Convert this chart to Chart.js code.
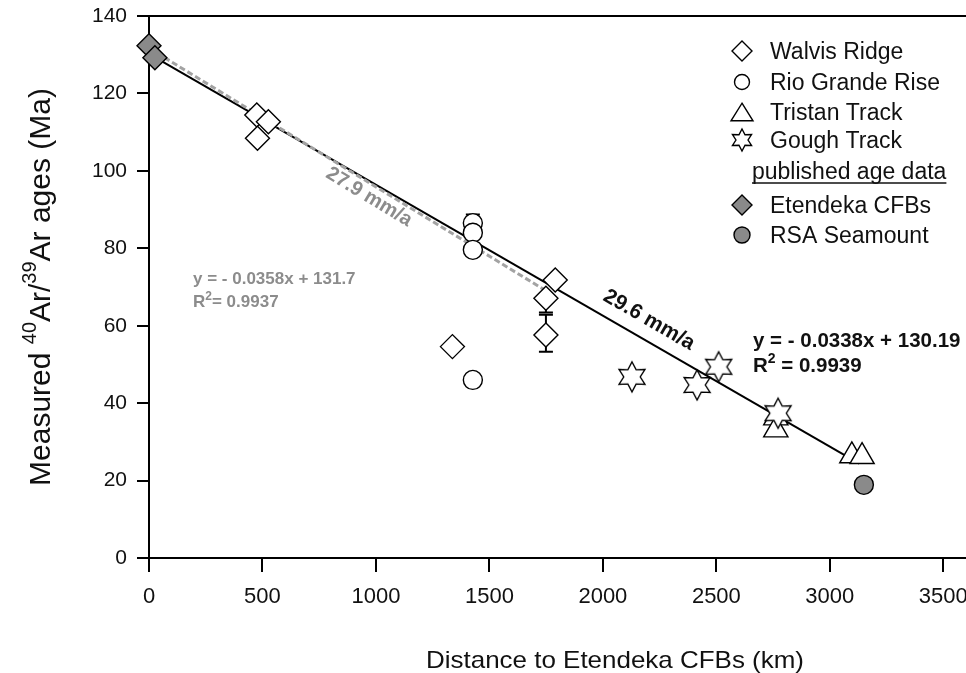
<!DOCTYPE html>
<html>
<head>
<meta charset="utf-8">
<script src="https://cdn.jsdelivr.net/npm/chart.js@4.4.1/dist/chart.umd.min.js"></script>
<style>
  html, body { margin: 0; padding: 0; background: #fff; }
  #c { display: block; }
</style>
</head>
<body>
<canvas id="c" width="966" height="673"></canvas>
<script>
// ---- data (distance km, age Ma) ----
const walvisX = [475, 526, 478, 1790, 1749, 1749, 1337];
const walvisY = [114.4, 112.7, 108.4, 71.8, 67.1, 57.6, 54.6];
const rioX = [1427, 1427, 1427, 1427];
const rioY = [86.5, 84.0, 79.6, 46.0];
const tristanX = [2762, 2762, 3097, 3142];
const tristanY = [36.2, 33.1, 26.4, 26.2];
const goughX = [2128, 2415, 2510, 2772];
const goughY = [46.8, 44.7, 49.4, 37.4];
const etendekaX = [0, 26];
const etendekaY = [132.3, 129.2];
const rsaX = [3150];
const rsaY = [18.9];

// error bars (x, low, high)
const errX = [1749, 1749, 1427];
const errLow = [53.3, 63.4, 84.3];
const errHigh = [62.8, 67.1, 88.7];

// regression lines (end points)
const fitAllX = [0, 3130];
const fitAllY = [130.2, 24.4];
const fitPubX = [0, 1750];
const fitPubY = [131.7, 69.0];

const xTicks = [0, 500, 1000, 1500, 2000, 2500, 3000, 3500];
const yTicks = [0, 20, 40, 60, 80, 100, 120, 140];

const legendLabels = ['Walvis Ridge', 'Rio Grande Rise', 'Tristan Track', 'Gough Track',
                      'published age data', 'Etendeka CFBs', 'RSA Seamount'];
const legendShapes = ['diamond', 'circle', 'triangle', 'star', null, 'diamond', 'circle'];
const legendFills = ['#fff', '#fff', '#fff', '#fff', null, '#8a8a8a', '#8a8a8a'];

const FONT = '"Liberation Sans", Arial, Helvetica, sans-serif';
const GRAY_TXT = '#8c8c8c';
const INK = '#111';

function starPath(g, cx, cy, R, r) {
  g.beginPath();
  for (let i = 0; i < 12; i++) {
    const a = -Math.PI / 2 + i * Math.PI / 6;
    const rr = i % 2 ? r : R;
    const px = cx + rr * Math.cos(a), py = cy + rr * Math.sin(a);
    if (i) g.lineTo(px, py); else g.moveTo(px, py);
  }
  g.closePath();
}

function makeStar(R) {
  const c = document.createElement('canvas');
  const s = Math.ceil(R * 2 + 4);
  c.width = s; c.height = s;
  const g = c.getContext('2d');
  starPath(g, s / 2, s / 2, R, R * 0.55);
  g.fillStyle = '#fff'; g.fill();
  g.lineWidth = 1.4; g.strokeStyle = '#000'; g.stroke();
  return c;
}

function marker(g, shape, x, y, r, fill) {
  g.save();
  g.beginPath();
  if (shape === 'diamond') {
    g.moveTo(x, y - r); g.lineTo(x + r, y); g.lineTo(x, y + r); g.lineTo(x - r, y); g.closePath();
  } else if (shape === 'circle') {
    g.arc(x, y, r, 0, Math.PI * 2);
  } else if (shape === 'triangle') {
    const h = r * 1.6;
    g.moveTo(x, y - h / 2); g.lineTo(x + r, y + h / 2); g.lineTo(x - r, y + h / 2); g.closePath();
  } else if (shape === 'star') {
    starPath(g, x, y, r, r * 0.55);
  }
  g.fillStyle = fill; g.fill();
  g.lineWidth = 1.4; g.strokeStyle = '#000'; g.stroke();
  g.restore();
}

// text with optional horizontal stretch, returns drawn width
function txt(g, s, x, y, font, color, sx) {
  g.save();
  g.font = font; g.fillStyle = color; g.textBaseline = 'alphabetic'; g.textAlign = 'left';
  g.translate(x, y); g.scale(sx || 1, 1);
  g.fillText(s, 0, 0);
  const w = g.measureText(s).width * (sx || 1);
  g.restore();
  return w;
}

// R² style text: parts [text, isSup]
function richLine(g, parts, x, y, size, weight, color) {
  let cx = x;
  parts.forEach(([s, sup]) => {
    const f = `${weight} ${sup ? Math.round(size * 0.68) : size}px ${FONT}`;
    cx += txt(g, s, cx, sup ? y - size * 0.42 : y, f, color);
  });
}

function pts(xs, ys) { return xs.map((x, i) => ({ x, y: ys[i] })); }

function scatterSet(label, xs, ys, style, r, fill) {
  return {
    label, data: pts(xs, ys), pointStyle: style, pointRadius: r, pointHoverRadius: r,
    backgroundColor: fill, borderColor: '#000', pointBorderWidth: 1.4, borderWidth: 1.4,
    showLine: false, clip: false
  };
}

const starImg = makeStar(15);

const noPad = s => { s.paddingTop = 0; s.paddingBottom = 0; s.paddingLeft = 0; s.paddingRight = 0; };

const framePlugin = {
  id: 'frame',
  beforeDatasetsDraw(chart) {
    const { ctx, chartArea: a, scales: { x, y } } = chart;
    ctx.save();
    ctx.strokeStyle = '#000'; ctx.lineWidth = 2;
    ctx.beginPath(); ctx.moveTo(a.left - 1, a.top); ctx.lineTo(a.right, a.top); ctx.stroke();
    // error bars
    errX.forEach((ex, i) => {
      const px = x.getPixelForValue(ex);
      const lo = y.getPixelForValue(errLow[i]), hi = y.getPixelForValue(errHigh[i]);
      ctx.beginPath();
      ctx.moveTo(px, lo); ctx.lineTo(px, hi);
      ctx.moveTo(px - 7, lo); ctx.lineTo(px + 7, lo);
      ctx.moveTo(px - 7, hi); ctx.lineTo(px + 7, hi);
      ctx.stroke();
    });
    ctx.restore();
  },
  afterDraw(chart) {
    const ctx = chart.ctx;
    // regression annotations
    richLine(ctx, [['y = - 0.0358x + 131.7', false]], 193, 284, 17, 'bold', GRAY_TXT);
    richLine(ctx, [['R', false], ['2', true], ['= 0.9937', false]], 193, 307, 17, 'bold', GRAY_TXT);
    richLine(ctx, [['y = - 0.0338x + 130.19', false]], 753, 347, 20.5, 'bold', INK);
    richLine(ctx, [['R', false], ['2', true], [' = 0.9939', false]], 753, 372, 20.5, 'bold', INK);

    ctx.save();
    ctx.font = `bold 20px ${FONT}`; ctx.fillStyle = GRAY_TXT;
    ctx.textAlign = 'center'; ctx.textBaseline = 'middle';
    ctx.translate(369, 197); ctx.rotate(31 * Math.PI / 180);
    ctx.fillText('27.9 mm/a', 0, 0);
    ctx.restore();
    ctx.save();
    ctx.font = `bold 21px ${FONT}`; ctx.fillStyle = INK;
    ctx.textAlign = 'center'; ctx.textBaseline = 'middle';
    ctx.translate(649, 320); ctx.rotate(30 * Math.PI / 180);
    ctx.fillText('29.6 mm/a', 0, 0);
    ctx.restore();

    // legend
    const base = [59, 90, 120, 148, 179, 213, 243];
    const sizes = [10, 7.5, 11, 11, 0, 10, 8];
    legendLabels.forEach((lab, i) => {
      const f = `23px ${FONT}`;
      if (!legendShapes[i]) {
        const w = txt(ctx, lab, 752, base[i], f, INK);
        ctx.save(); ctx.strokeStyle = INK; ctx.lineWidth = 1.3;
        ctx.beginPath(); ctx.moveTo(752, base[i] + 4); ctx.lineTo(752 + w, base[i] + 4); ctx.stroke();
        ctx.restore();
        return;
      }
      marker(ctx, legendShapes[i], 742, base[i] - 8, sizes[i], legendFills[i]);
      txt(ctx, lab, 770, base[i], f, INK);
    });

    // x axis title
    ctx.save();
    ctx.font = `24px ${FONT}`;
    const xt = 'Distance to Etendeka CFBs (km)';
    const sx = 378 / ctx.measureText(xt).width;
    ctx.restore();
    txt(ctx, xt, 426, 668, `24px ${FONT}`, INK, sx);

    // y axis title with superscripts
    ctx.save();
    ctx.translate(50, 287); ctx.rotate(-Math.PI / 2);
    const parts = [['Measured ', false], ['40', true], ['Ar/', false], ['39', true], ['Ar ages (Ma)', false]];
    const size = 30, supSize = 20;
    let total = 0;
    parts.forEach(([s, sup]) => { ctx.font = `${sup ? supSize : size}px ${FONT}`; total += ctx.measureText(s).width; });
    let cx = -total / 2;
    parts.forEach(([s, sup]) => {
      ctx.font = `${sup ? supSize : size}px ${FONT}`; ctx.fillStyle = INK;
      ctx.fillText(s, cx, sup ? -14 : 0);
      cx += ctx.measureText(s).width;
    });
    ctx.restore();
  }
};

new Chart(document.getElementById('c'), {
  type: 'scatter',
  data: {
    datasets: [
      scatterSet('Etendeka CFBs', etendekaX, etendekaY, 'rectRot', 12, '#8a8a8a'),
      scatterSet('RSA Seamount', rsaX, rsaY, 'circle', 9.5, '#8a8a8a'),
      scatterSet('Gough Track', goughX, goughY, starImg, 15, '#fff'),
      scatterSet('Tristan Track', tristanX, tristanY, 'triangle', 14, '#fff'),
      scatterSet('Rio Grande Rise', rioX, rioY, 'circle', 9.5, '#fff'),
      scatterSet('Walvis Ridge', walvisX, walvisY, 'rectRot', 12, '#fff'),
      { label: 'published fit', data: pts(fitPubX, fitPubY), showLine: true, pointRadius: 0,
        borderColor: '#a3a3a3', borderWidth: 3, borderDash: [6, 3], clip: false },
      { label: 'all fit', data: pts(fitAllX, fitAllY), showLine: true, pointRadius: 0,
        borderColor: '#000', borderWidth: 2, clip: false }
    ]
  },
  options: {
    responsive: false,
    animation: false,
    layout: { autoPadding: false, padding: { top: 16, right: 0, left: 0, bottom: 0 } },
    plugins: { legend: { display: false }, tooltip: { enabled: false } },
    scales: {
      x: {
        type: 'linear', position: 'bottom', min: 0, max: 3600,
        afterBuildTicks: s => { s.ticks = xTicks.map(v => ({ value: v })); },
        afterFit: s => { s.height = 115; noPad(s); },
        border: { color: '#000', width: 2 },
        grid: { drawOnChartArea: false, drawTicks: true, tickLength: 14, color: '#000', lineWidth: 2 },
        ticks: { color: INK, font: { family: FONT, size: 22 }, padding: 12, maxRotation: 0,
                 callback: v => String(v) }
      },
      y: {
        min: 0, max: 140,
        afterBuildTicks: s => { s.ticks = yTicks.map(v => ({ value: v })); },
        afterFit: s => { s.width = 149; noPad(s); },
        border: { color: '#000', width: 2 },
        grid: { drawOnChartArea: false, drawTicks: true, tickLength: 12, color: '#000', lineWidth: 2 },
        ticks: { color: INK, font: { family: FONT, size: 21 }, padding: 10 }
      }
    }
  },
  plugins: [framePlugin]
});
</script>
</body>
</html>
